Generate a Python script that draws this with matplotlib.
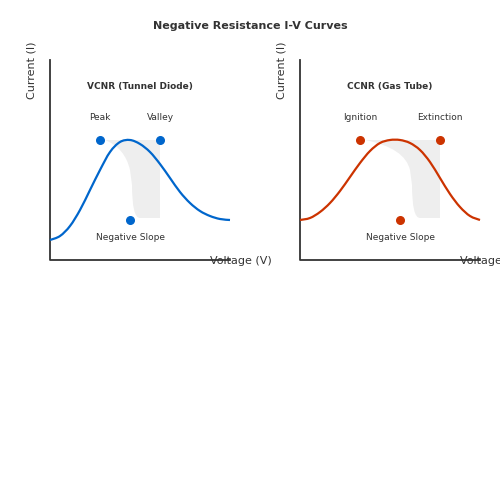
import matplotlib.pyplot as plt
import numpy as np
from matplotlib.path import Path
from matplotlib.patches import PathPatch

# curve points (pixel coords, y down)
vcnr_x = [50, 60, 70, 80, 90, 100, 110, 120, 130, 140, 150, 160, 170, 180, 190, 200, 210, 220, 230]
vcnr_y = [240, 236, 226, 210, 190, 170, 152, 142, 140, 144, 152, 164, 178, 192, 203, 211, 216, 219, 220]
ccnr_x = [300, 310, 320, 330, 340, 350, 360, 370, 380, 390, 400, 410, 420, 430, 440, 450, 460, 470, 480]
ccnr_y = [220, 218, 212, 203, 191, 177, 163, 151, 143, 140, 140, 143, 150, 162, 178, 194, 207, 216, 220]

vcnr_pts = [(100, 140), (160, 140), (130, 220)]
ccnr_pts = [(360, 140), (440, 140), (400, 220)]

fig = plt.figure(figsize=(5, 5), dpi=100)
ax = fig.add_axes([0, 0, 1, 1])
ax.set_xlim(0, 500)
ax.set_ylim(500, 0)
ax.axis('off')

txt = '#333333'
ax.text(250, 26, 'Negative Resistance I-V Curves', ha='center', va='center', fontsize=8, fontweight='bold', color=txt)

def smooth_path(xs, ys):
    # catmull-rom through the points, as cubic bezier segments
    p = np.column_stack([xs, ys]).astype(float)
    verts = [tuple(p[0])]
    codes = [Path.MOVETO]
    for i in range(len(p) - 1):
        p0 = p[max(i - 1, 0)]
        p1, p2 = p[i], p[i + 1]
        p3 = p[min(i + 2, len(p) - 1)]
        verts += [tuple(p1 + (p2 - p0) / 6), tuple(p2 - (p3 - p1) / 6), tuple(p2)]
        codes += [Path.CURVE4] * 3
    return Path(verts, codes)

def panel(x0, xs, ys, pts, color, title, labels):
    # shaded negative slope region
    px, py = pts[0]
    vx, vy = pts[1]
    sy = pts[2][1]
    verts = [(px + 5, py), (vx, vy), (vx, sy - 2), (vx - 20, sy - 2),
             (vx - 28, sy - 2), (vx - 28, 185), (vx - 30, 170), (vx - 35, 148), (px + 5, py), (px + 5, py)]
    codes = [Path.MOVETO, Path.LINETO, Path.LINETO, Path.LINETO,
             Path.CURVE3, Path.CURVE3, Path.LINETO, Path.CURVE3, Path.CURVE3, Path.CLOSEPOLY]
    ax.add_patch(PathPatch(Path(verts, codes), facecolor='#eeeeee', edgecolor='none', zorder=1))
    ax.plot([x0, x0, x0 + 180], [60, 260, 260], color='#333333', lw=1.3, zorder=2)
    ax.add_patch(PathPatch(smooth_path(xs, ys), facecolor='none', edgecolor=color, lw=1.6, zorder=3))
    ax.scatter([p[0] for p in pts], [p[1] for p in pts], s=30, color=color, zorder=4)
    ax.text(x0 + 90, 87, title, ha='center', va='center', fontsize=6.5, fontweight='bold', color=txt)
    ax.text(pts[0][0], 117, labels[0], ha='center', va='center', fontsize=6.5, color=txt)
    ax.text(pts[1][0], 117, labels[1], ha='center', va='center', fontsize=6.5, color=txt)
    ax.text(pts[2][0], 237, 'Negative Slope', ha='center', va='center', fontsize=6.5, color=txt)
    ax.text(x0 - 19, 70, 'Current (I)', ha='center', va='center', rotation=90, fontsize=8, color=txt)
    ax.text(x0 + 160, 261, 'Voltage (V)', ha='left', va='center', fontsize=8, color=txt)

panel(50, vcnr_x, vcnr_y, vcnr_pts, '#0066cc', 'VCNR (Tunnel Diode)', ['Peak', 'Valley'])
panel(300, ccnr_x, ccnr_y, ccnr_pts, '#cc3300', 'CCNR (Gas Tube)', ['Ignition', 'Extinction'])

fig.savefig('out.png', dpi=100)
